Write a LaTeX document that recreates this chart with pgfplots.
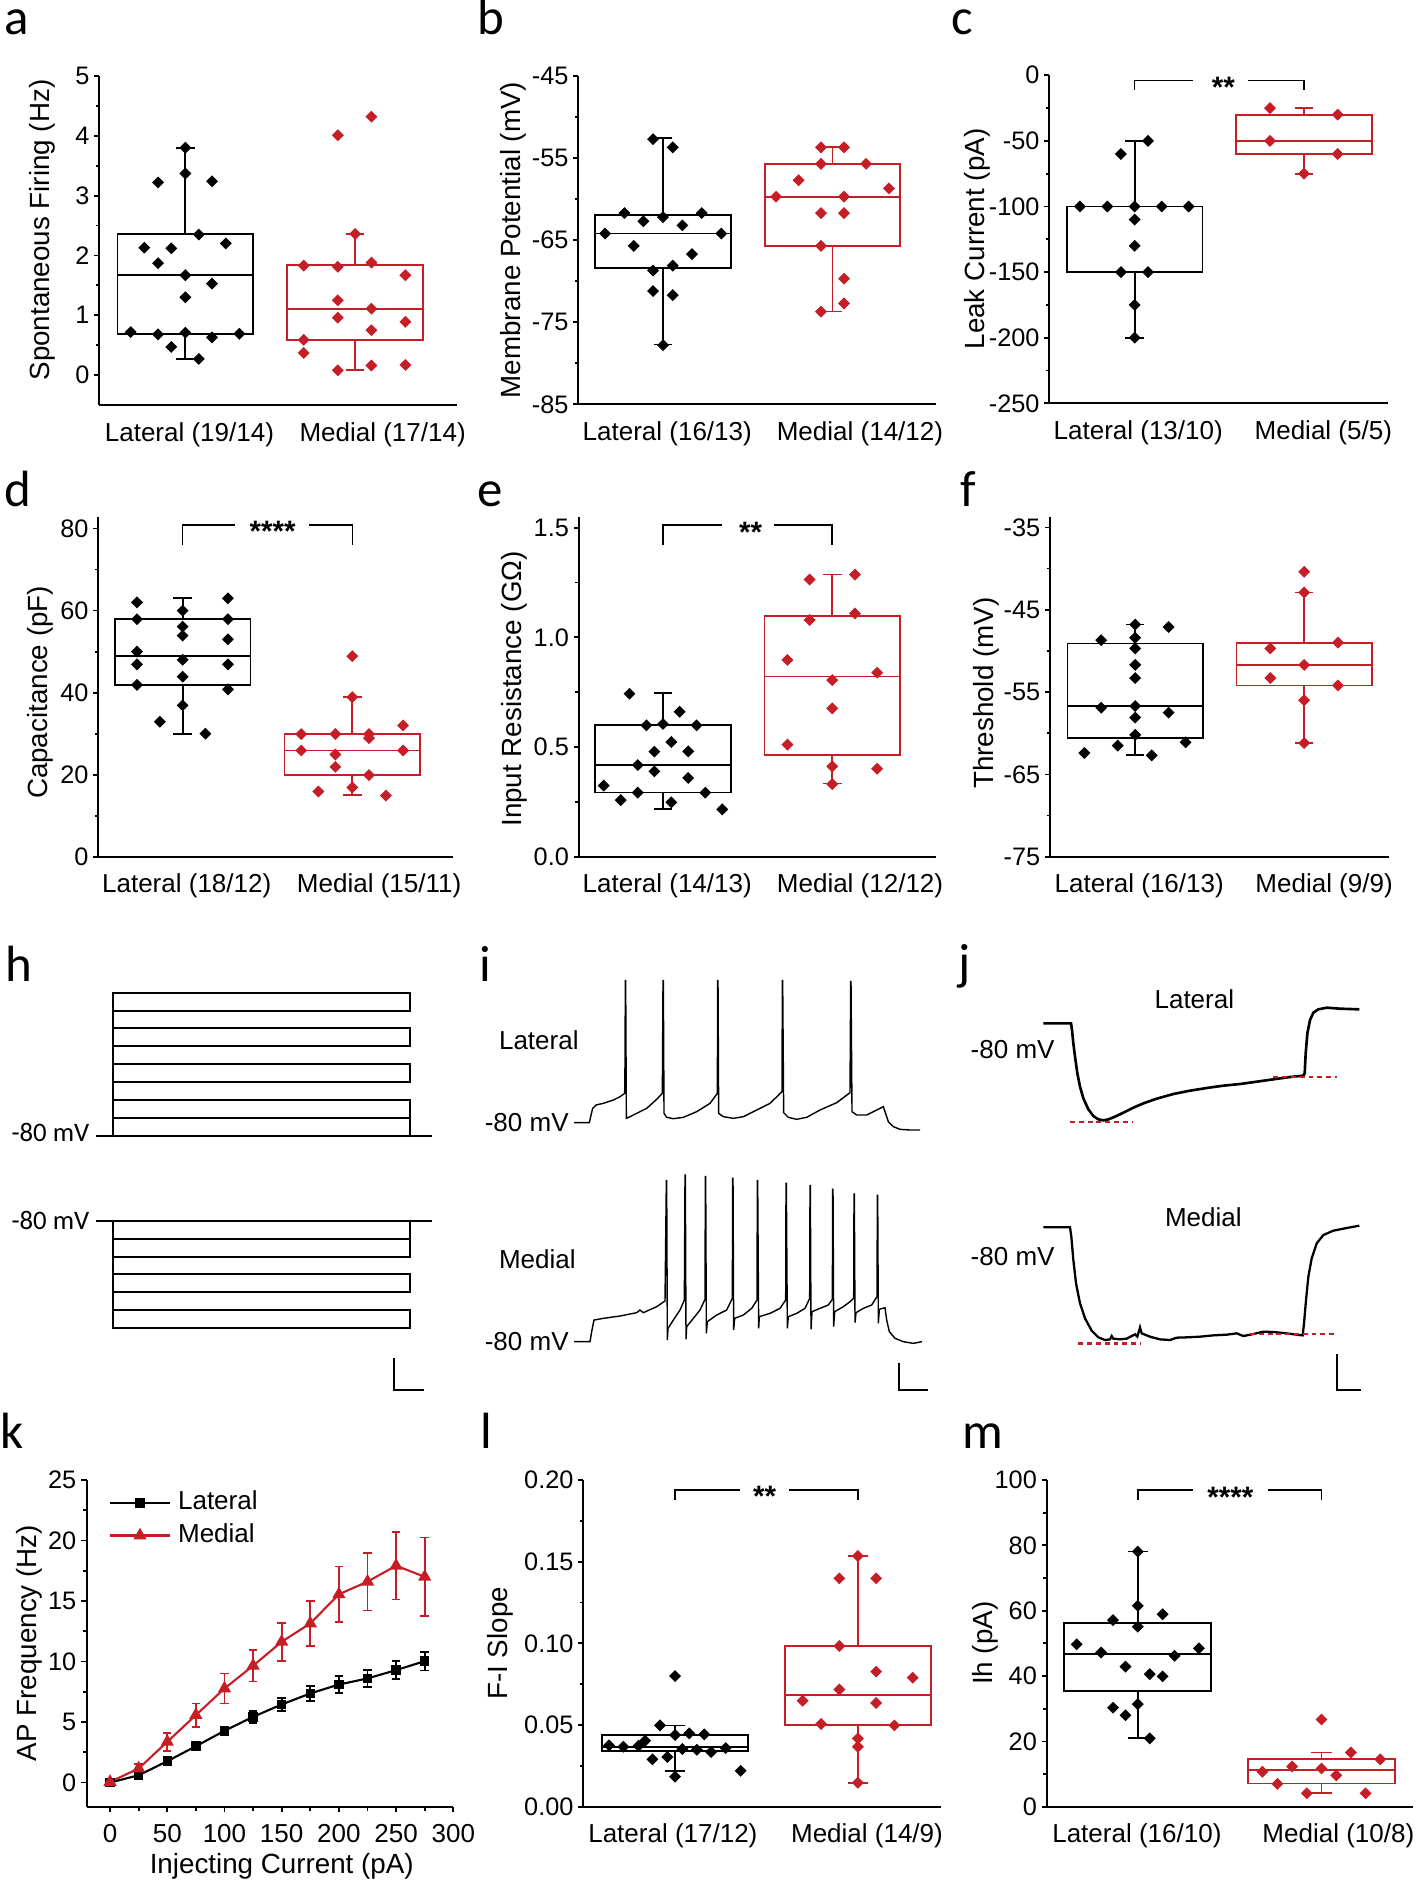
\documentclass[border=0pt]{standalone}
\usepackage{fontspec}
\setmainfont{Liberation Sans}
\newfontfamily\letterfont{Carlito}
\usepackage{pgfplots}
\pgfplotsset{compat=1.18}
\usepgfplotslibrary{statistics}
\definecolor{medred}{RGB}{198,30,38}

\pgfplotsset{
  panel/.style={
    scale only axis, anchor=south west, clip=false,
    axis lines=left, axis line style={-, line width=0.5pt},
    tick align=outside, major tick length=1.4pt, minor tick length=1pt,
    every tick/.style={black, line width=0.5pt},
    xticklabel style={font=\fontsize{7.4}{8}\selectfont},
    yticklabel style={font=\fontsize{7.2}{8}\selectfont, inner xsep=1.2pt},
    /pgf/number format/assume math mode=true,
    minor y tick num=1,
  },
  boxpanel/.style={panel, xtick style={draw=none},
    boxplot/draw direction=y},
  latbox/.style={black, line width=0.5pt, boxplot prepared={draw position=0, box extend=0.8, whisker extend=0.11, #1}},
  medbox/.style={medred, line width=0.5pt, boxplot prepared={draw position=1, box extend=0.8, whisker extend=0.11, #1}},
  latpts/.style={only marks, mark=square*, mark size=1pt, mark options={rotate=45, draw=black, fill=black}},
  medpts/.style={only marks, mark=square*, mark size=1pt, mark options={rotate=45, draw=medred, fill=medred}},
  sig/.style={black, line width=0.45pt},
  canvas/.style={scale only axis, anchor=south west, hide axis, clip=false},
  trace/.style={black, line width=0.4pt},
  redash/.style={medred, line width=0.7pt, dash pattern=on 1.4pt off 1.1pt},
}
\tikzset{txt/.style={inner sep=0pt, font=\fontsize{7.4}{8}\selectfont}}
\newcommand\stars[1]{\fontsize{8.4}{8}\bfseries\selectfont #1}
\newcommand\plet[3]{\node[anchor=base west, inner sep=0pt, font=\letterfont\fontsize{14.5}{15}\selectfont] at (axis cs:#2,-#3) {#1};}

\begin{document}
\begin{tikzpicture}
\path[use as bounding box] (0,0) rectangle (141.8mm,-188mm);

% ---------- a ----------
\begin{axis}[boxpanel, at={(9.93mm,-40.5mm)}, width=35.77mm, height=32.9mm,
  xmin=-0.507, xmax=1.6, ymin=-0.5, ymax=5, ytick={0,1,...,5},
  xtick={0.024,1.162}, xticklabels={Lateral (19/14), Medial (17/14)}]
\addplot[latbox={lower whisker=0.27, lower quartile=0.69, median=1.67, upper quartile=2.36, upper whisker=3.80}] coordinates {};
\addplot[medbox={lower whisker=0.08, lower quartile=0.59, median=1.10, upper quartile=1.84, upper whisker=2.36}] coordinates {};
\addplot[latpts] coordinates {(0,3.80)(0,3.37)(-0.161,3.22)(0.157,3.24)(0.079,2.35)(-0.242,2.13)(-0.083,2.12)(0.238,2.20)(-0.161,1.87)(0,1.67)(0.157,1.53)(0,1.30)(-0.322,0.72)(-0.161,0.68)(0,0.71)(0.157,0.63)(0.318,0.69)(-0.083,0.47)(0.079,0.27)};
\addplot[medpts] coordinates {(1.096,4.32)(0.898,4.01)(1.0,2.36)(0.697,1.83)(0.898,1.81)(1.096,1.88)(1.296,1.67)(0.898,1.25)(1.096,1.11)(0.898,0.96)(1.296,0.89)(1.096,0.75)(0.697,0.59)(0.697,0.37)(0.898,0.08)(1.096,0.16)(1.296,0.17)};
\end{axis}

% ---------- b ----------
\begin{axis}[boxpanel, at={(57.83mm,-40.43mm)}, width=35.74mm, height=32.83mm,
  xmin=-0.5, xmax=1.609, ymin=-85, ymax=-45, ytick={-85,-75,...,-45},
  xtick={0.025,1.162}, xticklabels={Lateral (16/13), Medial (14/12)}]
\addplot[latbox={lower whisker=-77.7, lower quartile=-68.4, median=-64.2, upper quartile=-61.9, upper whisker=-52.6}] coordinates {};
\addplot[medbox={lower whisker=-73.7, lower quartile=-65.7, median=-59.7, upper quartile=-55.7, upper whisker=-53.65}] coordinates {};
\addplot[latpts] coordinates {(-0.059,-52.7)(0.057,-53.7)(-0.228,-61.7)(0,-62.2)(0.228,-61.7)(-0.116,-62.7)(0.114,-63.2)(-0.342,-64.2)(0.344,-64.2)(-0.173,-65.7)(0.171,-66.7)(-0.059,-68.7)(0.057,-68.1)(-0.059,-71.2)(0.057,-71.7)(0,-77.8)};
\addplot[medpts] coordinates {(0.932,-53.7)(1.068,-53.7)(0.932,-55.7)(1.198,-55.7)(0.800,-57.7)(0.667,-59.7)(1.068,-59.7)(1.333,-58.7)(0.932,-61.7)(1.068,-61.7)(0.932,-65.7)(1.068,-69.7)(1.068,-72.7)(0.932,-73.7)};
\end{axis}

% ---------- c ----------
\begin{axis}[boxpanel, at={(104.93mm,-40.33mm)}, width=33.9mm, height=32.8mm,
  xmin=-0.504, xmax=1.498, ymin=-250, ymax=0, ytick={-250,-200,...,0},
  xtick={0.021,1.114}, xticklabels={Lateral (13/10), Medial (5/5)}]
\addplot[latbox={lower whisker=-200, lower quartile=-150, median=-100, upper quartile=-100, upper whisker=-50}] coordinates {};
\addplot[medbox={lower whisker=-75, lower quartile=-60, median=-50, upper quartile=-30, upper whisker=-25}] coordinates {};
\addplot[latpts] coordinates {(-0.323,-100)(-0.161,-100)(0,-100)(0.160,-100)(0.319,-100)(0.079,-50)(-0.081,-60)(0,-110)(0,-130)(-0.081,-150)(0.079,-150)(0,-175)(0,-200)};
\addplot[medpts] coordinates {(0.799,-25)(1.199,-30)(0.799,-50)(1.199,-60)(1,-75)};
\addplot[sig] coordinates {(0,-11.2)(0,-4.1)(0.346,-4.1)};
\addplot[sig] coordinates {(0.671,-4.1)(1,-4.1)(1,-11.2)};
\node[anchor=base, yshift=-1.7mm] at (axis cs:0.524,-4.1) {\stars{**}};
\end{axis}

% ---------- d ----------
\begin{axis}[boxpanel, at={(9.83mm,-85.67mm)}, width=35.5mm, height=34mm,
  xmin=-0.497, xmax=1.595, ymin=0, ymax=82.9, ytick={0,20,...,80},
  xtick={0.024,1.158}, xticklabels={Lateral (18/12), Medial (15/11)}]
\addplot[latbox={lower whisker=30, lower quartile=41.9, median=48.9, upper quartile=58, upper whisker=63.1}] coordinates {};
\addplot[medbox={lower whisker=15, lower quartile=19.9, median=25.9, upper quartile=29.9, upper whisker=38.9}] coordinates {};
\addplot[latpts] coordinates {(-0.269,62.0)(-0.269,57.9)(-0.269,50.0)(-0.269,46.9)(-0.269,41.9)(0,60.0)(0,56.1)(0,53.9)(0,48.0)(0,43.9)(0,36.9)(-0.134,32.9)(0.134,30.0)(0.267,63.0)(0.267,57.9)(0.267,53.0)(0.267,46.9)(0.267,40.8)};
\addplot[medpts] coordinates {(1,48.9)(1,38.9)(0.699,29.9)(0.9,29.9)(1.098,29.9)(1.299,32.0)(0.699,25.9)(1.299,25.9)(0.9,24.9)(1.098,28.9)(0.9,21.9)(1.098,19.9)(1,16.9)(0.8,15.9)(1.198,14.9)};
\addplot[sig] coordinates {(0,76)(0,80.9)(0.308,80.9)};
\addplot[sig] coordinates {(0.747,80.9)(1,80.9)(1,76)};
\node[anchor=base, yshift=-1.7mm] at (axis cs:0.53,80.9) {\stars{****}};
\end{axis}

% ---------- e ----------
\begin{axis}[boxpanel, at={(57.87mm,-85.67mm)}, width=35.7mm, height=34mm,
  xmin=-0.498, xmax=1.611, ymin=0, ymax=1.55, ytick={0,0.5,1,1.5},
  yticklabel style={/pgf/number format/.cd, fixed, fixed zerofill, precision=1},
  xtick={0.025,1.164}, xticklabels={Lateral (14/13), Medial (12/12)}]
\addplot[latbox={lower whisker=0.216, lower quartile=0.293, median=0.418, upper quartile=0.599, upper whisker=0.745}] coordinates {};
\addplot[medbox={lower whisker=0.334, lower quartile=0.464, median=0.821, upper quartile=1.097, upper whisker=1.287}] coordinates {};
\addplot[latpts] coordinates {(-0.198,0.743)(0.098,0.661)(-0.098,0.599)(0,0.605)(0.198,0.599)(0.049,0.523)(-0.051,0.479)(0.149,0.480)(-0.149,0.418)(-0.051,0.389)(0.149,0.359)(-0.350,0.324)(-0.149,0.292)(0.250,0.292)(-0.250,0.258)(0.049,0.248)(0.350,0.216)};
\addplot[medpts] coordinates {(0.866,1.264)(1.134,1.286)(1.134,1.109)(0.866,1.079)(0.735,0.897)(1.265,0.839)(1,0.805)(1,0.676)(0.735,0.511)(1,0.412)(1.265,0.401)(1,0.331)};
\addplot[sig] coordinates {(0,1.421)(0,1.512)(0.35,1.512)};
\addplot[sig] coordinates {(0.655,1.512)(1,1.512)(1,1.421)};
\node[anchor=base, yshift=-1.7mm] at (axis cs:0.518,1.512) {\stars{**}};
\end{axis}

% ---------- f ----------
\begin{axis}[boxpanel, at={(105mm,-85.67mm)}, width=33.93mm, height=34mm,
  xmin=-0.504, xmax=1.504, ymin=-75, ymax=-33.7, ytick={-75,-65,...,-35},
  xtick={0.024,1.118}, xticklabels={Lateral (16/13), Medial (9/9)}]
\addplot[latbox={lower whisker=-62.6, lower quartile=-60.6, median=-56.7, upper quartile=-49.1, upper whisker=-46.8}] coordinates {};
\addplot[medbox={lower whisker=-61.2, lower quartile=-54.2, median=-51.7, upper quartile=-49.0, upper whisker=-42.9}] coordinates {};
\addplot[latpts] coordinates {(0,-46.8)(0.198,-47.1)(-0.201,-48.7)(0,-48.4)(0,-49.7)(0,-51.7)(0,-53.3)(-0.201,-56.9)(0,-56.7)(0.198,-57.5)(0,-58.1)(0,-60.2)(-0.103,-61.5)(0.298,-61.1)(-0.301,-62.4)(0.098,-62.7)};
\addplot[medpts] coordinates {(1,-40.4)(1,-42.9)(1.2,-49.0)(0.8,-49.7)(1,-51.7)(0.8,-53.3)(1.2,-54.2)(1,-56.0)(1,-61.2)};
\end{axis}

% ---------- h ----------
\begin{axis}[canvas, at={(0mm,-142mm)}, width=48mm, height=48mm,
  xmin=0, xmax=1440, ymin=-1440, ymax=0]
\addplot[black, line width=0.55pt] coordinates {(288,-588)(340,-588)(340,-158)(1230,-158)(1230,-212)(340,-212)(340,-265)(1230,-265)(1230,-319)(340,-319)(340,-373)(1230,-373)(1230,-427)(340,-427)(340,-481)(1230,-481)(1230,-535)(340,-535)(340,-588)(1230,-588)(1230,-535)(1230,-588)(1297,-588)};
\addplot[black, line width=0.55pt] coordinates {(288,-843)(340,-843)(340,-1165)(1230,-1165)(1230,-1111)(340,-1111)(340,-1057)(1230,-1057)(1230,-1003)(340,-1003)(340,-950)(1230,-950)(1230,-897)(340,-897)(340,-843)(1230,-843)(1230,-897)(1230,-843)(1297,-843)};
\addplot[black, line width=0.6pt] coordinates {(1182,-1255)(1182,-1350)(1272,-1350)};
\node[anchor=east, inner sep=0pt, font=\letterfont\fontsize{7.6}{8}\selectfont] at (axis cs:270,-578) {-80 mV};
\node[anchor=east, inner sep=0pt, font=\letterfont\fontsize{7.6}{8}\selectfont] at (axis cs:270,-840) {-80 mV};
\end{axis}

% ---------- i ----------
\begin{axis}[canvas, at={(47mm,-142mm)}, width=48mm, height=48mm,
  xmin=0, xmax=1440, ymin=-1440, ymax=0]
\addplot[trace] coordinates {(312,-548)(358,-548)(362,-530)(368,-505)(378,-495)(400,-490)(430,-480)(450,-470)(464,-460)(465,-368)(466,-122)(467,-122)(469,-535)(480,-530)(500,-520)(530,-505)(560,-478)(577,-460)(579,-122)(580,-122)(582,-520)(590,-532)(610,-536)(640,-532)(680,-515)(720,-490)(742,-460)(743,-122)(744,-122)(746,-520)(760,-530)(790,-535)(820,-530)(860,-510)(900,-490)(936,-455)(937,-122)(938,-122)(941,-518)(955,-532)(980,-538)(1010,-532)(1050,-510)(1100,-488)(1140,-458)(1142,-125)(1143,-125)(1146,-515)(1160,-525)(1190,-525)(1220,-510)(1240,-500)(1245,-515)(1255,-545)(1270,-560)(1290,-568)(1320,-570)(1350,-570)};
\addplot[trace] coordinates {(312,-1205)(360,-1205)(365,-1175)(372,-1140)(400,-1135)(450,-1128)(500,-1118)(510,-1110)(520,-1118)(560,-1100)(585,-1083)
(589,-722)(590,-722)(592,-1200)(594,-1165)(610,-1140)(630,-1110)(643,-1080)
(645,-705)(646,-705)(648,-1198)(650,-1160)(670,-1135)(690,-1110)(705,-1078)
(706,-710)(707,-710)(709,-1180)(712,-1145)(740,-1125)(770,-1110)(787,-1075)
(788,-715)(789,-715)(791,-1170)(794,-1135)(820,-1125)(845,-1105)(861,-1080)
(862,-722)(863,-722)(866,-1165)(868,-1130)(900,-1120)(930,-1105)(947,-1080)
(948,-730)(949,-730)(952,-1165)(955,-1130)(980,-1120)(1005,-1105)(1019,-1075)
(1020,-737)(1021,-737)(1023,-1168)(1026,-1115)(1050,-1105)(1075,-1095)(1087,-1078)
(1088,-748)(1089,-748)(1091,-1160)(1094,-1115)(1120,-1100)(1140,-1085)(1151,-1075)
(1152,-762)(1153,-762)(1155,-1148)(1158,-1118)(1180,-1105)(1205,-1095)(1221,-1070)
(1222,-766)(1223,-766)(1225,-1150)(1228,-1108)(1245,-1103)(1250,-1140)(1258,-1175)(1275,-1195)(1300,-1205)(1330,-1210)(1356,-1205)};
\addplot[black, line width=0.6pt] coordinates {(1288,-1268)(1288,-1350)(1373,-1350)};
\node[txt, anchor=west] at (axis cs:85,-302) {Lateral};
\node[txt, anchor=west] at (axis cs:85,-959) {Medial};
\node[txt, anchor=east] at (axis cs:298,-548) {-80 mV};
\node[txt, anchor=east] at (axis cs:298,-1205) {-80 mV};
\end{axis}

% ---------- j ----------
\begin{axis}[canvas, at={(94mm,-142mm)}, width=47.8mm, height=48mm,
  xmin=0, xmax=1434, ymin=-1440, ymax=0]
\addplot[black, line width=0.75pt] coordinates {(310,-250)(393,-250)(396,-270)(400,-310)(405,-350)(412,-400)(420,-440)(430,-475)(445,-508)(460,-528)(475,-538)(490,-541)(505,-538)(525,-530)(550,-518)(580,-503)(610,-490)(650,-476)(700,-462)(750,-452)(800,-444)(850,-437)(900,-432)(950,-425)(1000,-418)(1050,-411)(1090,-407)(1094,-400)(1097,-340)(1102,-280)(1110,-240)(1120,-218)(1135,-208)(1160,-203)(1200,-206)(1258,-208)};
\addplot[redash] coordinates {(390,-546)(580,-546)};
\addplot[redash] coordinates {(1000,-411)(1192,-411)};
\addplot[black, line width=0.65pt] coordinates {(310,-862)(390,-862)(394,-890)(400,-960)(408,-1030)(420,-1090)(435,-1135)(455,-1172)(475,-1192)(495,-1200)(510,-1198)(515,-1188)(520,-1196)(540,-1198)(560,-1196)(575,-1188)(585,-1183)(592,-1190)(600,-1162)(605,-1180)(630,-1190)(660,-1198)(690,-1200)(710,-1193)(740,-1192)(780,-1190)(820,-1186)(860,-1184)(890,-1180)(910,-1188)(940,-1182)(970,-1175)(1000,-1176)(1040,-1180)(1070,-1184)(1088,-1186)(1092,-1150)(1098,-1080)(1105,-1010)(1115,-955)(1130,-910)(1150,-885)(1180,-872)(1220,-864)(1258,-857)};
\addplot[redash] coordinates {(415,-1210)(600,-1210)};
\addplot[redash] coordinates {(930,-1182)(1192,-1182)};
\addplot[black, line width=0.6pt] coordinates {(1192,-1243)(1192,-1350)(1262,-1350)};
\node[txt] at (axis cs:763,-178) {Lateral};
\node[txt] at (axis cs:790,-833) {Medial};
\node[txt, anchor=west] at (axis cs:90,-330) {-80 mV};
\node[txt, anchor=west] at (axis cs:90,-950) {-80 mV};
\end{axis}

% ---------- k ----------
\begin{axis}[panel, at={(8.67mm,-180.67mm)}, width=36.66mm, height=32.67mm,
  xmin=-20.4, xmax=300, ymin=-2, ymax=25,
  xtick={0,50,...,300}, minor x tick num=1, ytick={0,5,...,25},
  major tick length=1.6pt, minor tick length=1.1pt,
  legend cell align=left,
  legend style={draw=none, fill=none, at={(axis description cs:0.03,1.012)}, anchor=north west,
    font=\fontsize{7.4}{8}\selectfont, row sep=-1.6pt}]
\addplot[black, line width=0.6pt, mark=square*, mark size=1.05pt,
  error bars/.cd, y dir=both, y explicit, error bar style={line width=0.5pt},
  error mark options={rotate=90, mark size=1.2pt, line width=0.5pt}]
  coordinates {(0,0) +- (0,0) (25,0.6) +- (0,0.15) (50,1.76) +- (0,0.2) (75,3.0) +- (0,0.3) (100,4.27) +- (0,0.3) (125,5.43) +- (0,0.5) (150,6.45) +- (0,0.55) (175,7.36) +- (0,0.62) (200,8.10) +- (0,0.69) (225,8.60) +- (0,0.69) (250,9.29) +- (0,0.74) (275,10.03) +- (0,0.77)};
\addplot[medred, line width=0.6pt, mark=triangle*, mark size=1.6pt,
  error bars/.cd, y dir=both, y explicit, error bar style={line width=0.5pt},
  error mark options={rotate=90, mark size=1.2pt, line width=0.5pt}]
  coordinates {(0,0.05) +- (0,0) (25,1.16) +- (0,0.35) (50,3.36) +- (0,0.74) (75,5.57) +- (0,0.96) (100,7.77) +- (0,1.24) (125,9.65) +- (0,1.3) (150,11.63) +- (0,1.56) (175,13.15) +- (0,1.86) (200,15.55) +- (0,2.3) (225,16.6) +- (0,2.38) (250,17.92) +- (0,2.8) (275,17.0) +- (0,3.24)};
\legend{Lateral, Medial}
\end{axis}

% ---------- l ----------
\begin{axis}[boxpanel, at={(58.33mm,-180.67mm)}, width=35.77mm, height=32.67mm,
  xmin=-0.502, xmax=1.455, ymin=0, ymax=0.2, ytick={0,0.05,0.1,0.15,0.2},
  yticklabel style={/pgf/number format/.cd, fixed, fixed zerofill, precision=2},
  xtick={-0.012,1.05}, xticklabels={Lateral (17/12), Medial (14/9)}]
\addplot[latbox={lower whisker=0.022, lower quartile=0.0341, median=0.0367, upper quartile=0.0441, upper whisker=0.0498}] coordinates {};
\addplot[medbox={lower whisker=0.0147, lower quartile=0.05, median=0.0684, upper quartile=0.0984, upper whisker=0.1535}] coordinates {};
\addplot[latpts] coordinates {(0,0.080)(-0.082,0.0498)(0,0.0439)(0.078,0.0449)(0.160,0.0443)(-0.164,0.0404)(-0.361,0.0376)(-0.283,0.0367)(-0.2,0.0373)(0.04,0.0353)(0.119,0.0349)(0.197,0.0335)(0.277,0.0359)(-0.124,0.029)(-0.042,0.0304)(0,0.0184)(0.359,0.022)};
\addplot[medpts] coordinates {(1,0.1535)(0.899,0.1398)(1.1,0.1398)(0.899,0.0984)(1.1,0.0827)(1.3,0.079)(0.899,0.0718)(0.698,0.0649)(1.1,0.0635)(0.799,0.0506)(1.2,0.0498)(1,0.0418)(1,0.0367)(1,0.0147)};
\addplot[sig] coordinates {(0,0.1878)(0,0.1939)(0.356,0.1939)};
\addplot[sig] coordinates {(0.625,0.1939)(1,0.1939)(1,0.1878)};
\node[anchor=base, yshift=-1.7mm] at (axis cs:0.49,0.1939) {\stars{**}};
\end{axis}

% ---------- m ----------
\begin{axis}[boxpanel, at={(104.67mm,-180.67mm)}, width=36.66mm, height=32.67mm,
  xmin=-0.496, xmax=1.5, ymin=0, ymax=100, ytick={0,20,...,100},
  xtick={-0.005,1.092}, xticklabels={Lateral (16/10), Medial (10/8)}]
\addplot[latbox={lower whisker=21.1, lower quartile=35.5, median=46.7, upper quartile=56.3, upper whisker=78.1}] coordinates {};
\addplot[medbox={lower whisker=4.1, lower quartile=7.1, median=11.2, upper quartile=14.5, upper whisker=16.6}] coordinates {};
\addplot[latpts] coordinates {(0,78.1)(0,61.5)(0.135,58.9)(-0.135,57.1)(0,55.1)(-0.333,49.7)(0.333,48.5)(-0.2,47.2)(0.2,46.2)(-0.067,42.9)(0.065,40.6)(0.135,39.9)(0,31.4)(-0.135,30.3)(-0.067,28.0)(0.065,20.9)};
\addplot[medpts] coordinates {(1,26.7)(1.16,16.6)(1.32,14.5)(0.84,12.3)(1,11.7)(0.678,10.7)(1.08,9.6)(0.76,7.0)(0.92,4.1)(1.24,4.1)};
\addplot[sig] coordinates {(0,93.9)(0,96.9)(0.298,96.9)};
\addplot[sig] coordinates {(0.709,96.9)(1,96.9)(1,93.9)};
\node[anchor=base, yshift=-1.7mm] at (axis cs:0.504,96.9) {\stars{****}};
\end{axis}

% ---------- labels on the page ----------
\begin{axis}[canvas, at={(0mm,-188mm)}, width=141.8mm, height=188mm,
  xmin=0, xmax=1418, ymin=-1880, ymax=0]
\plet{a}{4}{35}
\plet{b}{477}{35}
\plet{c}{951}{35}
\plet{d}{4}{506.7}
\plet{e}{477}{506.7}
\plet{f}{960}{506.7}
\plet{h}{5}{981.7}
\plet{i}{479}{981.7}
\plet{j}{958}{979}
\plet{k}{0}{1448}
\plet{l}{480}{1448}
\plet{m}{962}{1448}
\node[rotate=90, font=\fontsize{7.9}{9}\selectfont] at (axis cs:42.5,-230) {Spontaneous Firing (Hz)};
\node[rotate=90, font=\fontsize{7.9}{9}\selectfont] at (axis cs:513.3,-240) {Membrane Potential (mV)};
\node[rotate=90, font=\fontsize{7.9}{9}\selectfont] at (axis cs:977.5,-239) {Leak Current (pA)};
\node[rotate=90, font=\fontsize{7.9}{9}\selectfont] at (axis cs:40.8,-692.5) {Capacitance (pF)};
\node[rotate=90, font=\fontsize{7.9}{9}\selectfont] at (axis cs:514.2,-689) {Input Resistance (GΩ)};
\node[rotate=90, font=\fontsize{7.9}{9}\selectfont] at (axis cs:985.8,-693.3) {Threshold (mV)};
\node[rotate=90, font=\fontsize{7.9}{9}\selectfont] at (axis cs:29.7,-1643) {AP Frequency (Hz)};
\node[rotate=90, font=\fontsize{7.9}{9}\selectfont] at (axis cs:500.8,-1643.3) {F-I Slope};
\node[rotate=90, font=\fontsize{7.9}{9}\selectfont] at (axis cs:985.8,-1643.3) {Ih (pA)};
\node[font=\fontsize{7.9}{9}\selectfont] at (axis cs:281.7,-1866) {Injecting Current (pA)};
\end{axis}
\end{tikzpicture}
\end{document}
